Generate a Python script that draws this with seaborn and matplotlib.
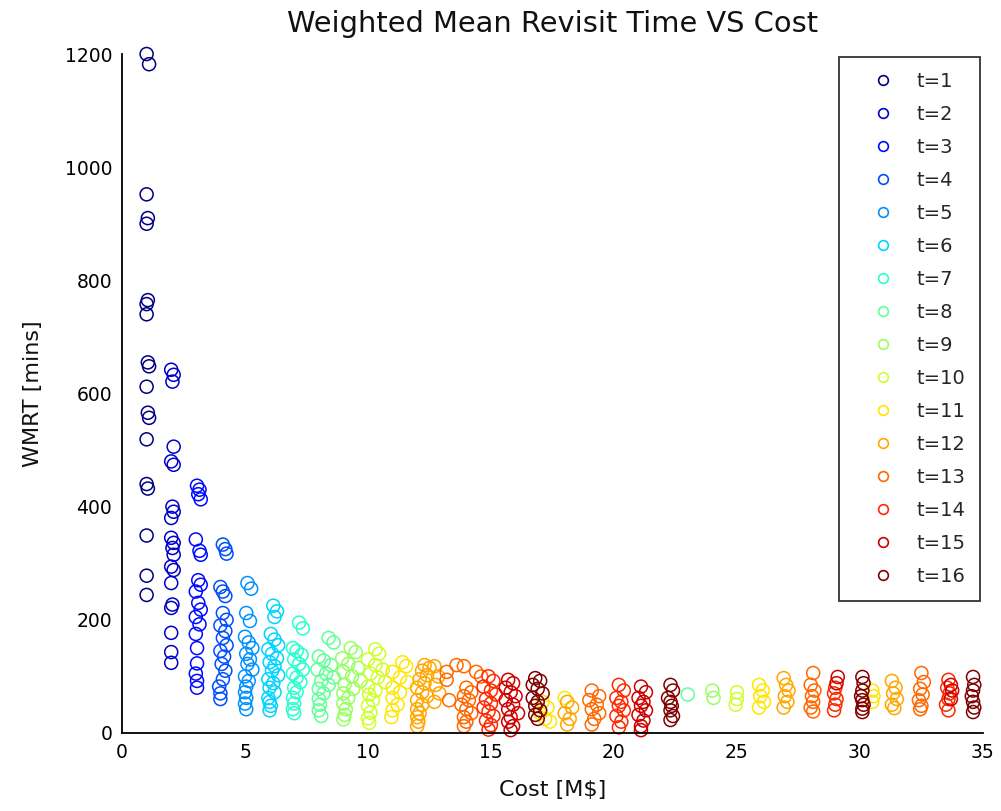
import numpy as np
import pandas as pd
import matplotlib
matplotlib.use("Agg")
import matplotlib.pyplot as plt
from matplotlib.lines import Line2D
import seaborn as sns

# ---------------- data ----------------
cost_t1 = [1.0, 1.1, 1.0, 1.05, 1.0, 1.05, 1.0, 1.0, 1.05, 1.1, 1.0, 1.05, 1.1, 1.0, 1.0, 1.05, 1.0, 1.0, 1.0]
wmrt_t1 = [1200, 1182, 952, 910, 900, 765, 758, 740, 655, 648, 612, 566, 557, 519, 440, 432, 349, 278, 244]

cost_t2 = [2.0, 2.1, 2.05, 2.1, 2.0, 2.1, 2.05, 2.1, 2.0, 2.0, 2.1, 2.05, 2.1, 2.0, 2.1, 2.0, 2.05, 2.0, 2.0, 2.0, 2.0]
wmrt_t2 = [642, 633, 621, 506, 480, 474, 400, 391, 380, 345, 336, 327, 315, 294, 288, 265, 227, 221, 177, 143, 124]

cost_t3 = [3.05, 3.15, 3.1, 3.2, 3.0, 3.15, 3.2, 3.1, 3.2, 3.0, 3.1, 3.2, 3.0, 3.15, 3.0, 3.05, 3.05, 3.0, 3.05, 3.05]
wmrt_t3 = [437, 430, 422, 413, 342, 322, 315, 270, 262, 250, 230, 218, 205, 192, 175, 150, 123, 105, 92, 80]

cost_t4 = [4.1, 4.2, 4.25, 4.0, 4.1, 4.2, 4.1, 4.25, 4.0, 4.2, 4.1, 4.25, 4.0, 4.15, 4.05, 4.2, 4.1, 3.95, 4.0, 4.0]
wmrt_t4 = [333, 325, 317, 258, 250, 242, 212, 200, 190, 180, 168, 155, 145, 135, 122, 110, 95, 82, 70, 60]

cost_t5 = [5.1, 5.25, 5.05, 5.2, 5.0, 5.15, 5.3, 5.05, 5.2, 5.1, 5.3, 5.0, 5.15, 5.05, 5.0, 5.05, 5.0, 5.05]
wmrt_t5 = [265, 255, 212, 198, 170, 160, 150, 140, 130, 122, 112, 100, 92, 82, 72, 62, 52, 42]

cost_t6 = [6.15, 6.3, 6.2, 6.05, 6.2, 6.35, 5.95, 6.1, 6.3, 6.0, 6.2, 6.1, 6.35, 5.95, 6.15, 6.0, 6.2, 5.95, 6.0, 6.05, 6.0]
wmrt_t6 = [225, 215, 205, 175, 165, 155, 148, 140, 132, 125, 118, 110, 102, 95, 88, 80, 72, 62, 55, 48, 40]

cost_t7 = [7.2, 7.35, 6.95, 7.1, 7.3, 7.0, 7.2, 7.35, 6.95, 7.1, 7.25, 7.0, 7.1, 6.95, 7.0, 6.95, 7.0]
wmrt_t7 = [195, 185, 150, 145, 138, 130, 122, 112, 105, 98, 90, 80, 72, 62, 52, 42, 35]

cost_t8 = [8.4, 8.6, 8.0, 8.2, 8.5, 7.95, 8.3, 8.6, 8.1, 8.4, 8.0, 8.2, 8.0, 8.05, 8.0, 8.1, 23.0]
wmrt_t8 = [168, 160, 135, 128, 120, 112, 105, 98, 92, 85, 78, 70, 60, 50, 40, 30, 68]

cost_t9 = [9.3, 9.5, 8.95, 9.2, 9.6, 9.0, 9.35, 9.7, 9.05, 9.4, 9.0, 9.2, 9.0, 9.1, 9.05, 9.0, 24.0, 24.05]
wmrt_t9 = [150, 143, 132, 122, 115, 108, 100, 92, 85, 78, 70, 62, 52, 42, 32, 24, 75, 62]

cost_t10 = [10.3, 10.45, 10.0, 10.3, 10.6, 10.1, 10.4, 10.7, 10.0, 10.3, 10.05, 10.2, 10.0, 10.1, 10.0, 10.05, 25.0, 25.0, 24.95]
wmrt_t10 = [148, 140, 130, 120, 112, 105, 98, 90, 82, 75, 68, 58, 48, 36, 26, 18, 72, 60, 50]

cost_t11 = [11.4, 11.55, 11.0, 11.3, 11.6, 11.0, 11.3, 11.0, 11.2, 11.0, 10.95,
            17.1, 17.3, 17.0, 17.2, 17.4, 18.0,
            25.9, 26.05, 25.95, 26.1, 25.9, 30.5, 30.55, 30.5]
wmrt_t11 = [125, 118, 108, 98, 90, 80, 72, 62, 50, 40, 28,
            55, 45, 35, 25, 20, 62,
            85, 75, 65, 55, 45, 75, 65, 55]

cost_t12 = [12.3, 12.5, 12.2, 12.4, 12.1, 12.3, 12.0, 12.2, 12.4, 12.0, 12.2, 12.0, 12.1, 12.0, 12.05, 12.0,
            12.7, 12.85, 12.75, 12.9, 12.7,
            18.1, 18.3, 18.0, 18.2, 18.1,
            26.9, 27.0, 27.1, 26.95, 27.05, 26.9,
            31.3, 31.45, 31.35, 31.5, 31.3, 31.4]
wmrt_t12 = [120, 115, 110, 102, 95, 88, 80, 72, 65, 58, 50, 42, 35, 28, 20, 12,
            118, 100, 85, 70, 55,
            55, 45, 35, 25, 15,
            97, 85, 75, 65, 55, 45,
            92, 80, 70, 60, 50, 44]

cost_t13 = [13.2, 13.2, 13.3, 13.6, 13.9, 14.4, 14.6, 14.0, 14.2, 13.9, 14.1, 13.8, 14.0, 14.2, 13.9, 14.0, 13.9,
            19.1, 19.4, 19.0, 19.3, 19.1, 19.4, 19.2, 19.1,
            28.1, 28.0, 28.15, 28.05, 28.1, 28.0, 28.1,
            32.5, 32.6, 32.45, 32.55, 32.4, 32.5, 32.45]
wmrt_t13 = [108, 94, 58, 120, 118, 108, 100, 80, 72, 65, 58, 50, 42, 35, 28, 20, 12,
            75, 65, 58, 50, 42, 35, 25, 15,
            106, 85, 75, 65, 55, 45, 38,
            106, 90, 78, 68, 58, 48, 42]

cost_t14 = [14.9, 15.1, 14.7, 15.0, 15.2, 14.8, 15.0, 14.7, 14.9, 15.1, 14.8, 15.0, 14.9,
            20.2, 20.4, 20.1, 20.3, 20.2, 20.4, 20.1, 20.3, 20.2,
            29.0, 28.95, 29.05, 29.0, 28.95,
            33.6, 33.55, 33.65, 33.6, 33.5, 33.6]
wmrt_t14 = [100, 92, 82, 75, 68, 60, 52, 45, 38, 30, 22, 14, 6,
            85, 75, 62, 55, 48, 40, 30, 20, 10,
            80, 70, 60, 50, 40,
            94, 80, 70, 60, 50, 40]

cost_t15 = [15.7, 15.9, 15.6, 15.8, 16.0, 15.6, 15.9, 15.7, 16.1, 15.8, 15.7, 15.9, 15.8,
            21.1, 21.3, 21.0, 21.2, 21.1, 21.3, 21.0, 21.2, 21.1, 21.1,
            29.1, 29.05,
            33.7, 33.75, 33.7]
wmrt_t15 = [94, 88, 80, 72, 65, 58, 50, 42, 35, 28, 20, 12, 5,
            82, 72, 62, 55, 48, 40, 32, 22, 12, 5,
            99, 88,
            85, 75, 60]

cost_t16 = [16.8, 17.0, 16.7, 16.9, 17.1, 16.7, 16.9, 16.8, 17.0, 16.8, 16.9,
            22.3, 22.4, 22.2, 22.3, 22.35, 22.3, 22.4, 22.3,
            30.1, 30.15, 30.1, 30.05, 30.1, 30.15, 30.1, 30.1,
            34.6, 34.65, 34.6, 34.55, 34.6, 34.65, 34.6]
wmrt_t16 = [97, 92, 85, 78, 70, 62, 55, 48, 40, 32, 25,
            85, 75, 62, 55, 48, 40, 30, 23,
            99, 88, 75, 65, 58, 50, 43, 37,
            99, 85, 75, 65, 55, 45, 37]

series_labels = ["t=%d" % i for i in range(1, 17)]
cost_lists = [cost_t1, cost_t2, cost_t3, cost_t4, cost_t5, cost_t6, cost_t7, cost_t8,
              cost_t9, cost_t10, cost_t11, cost_t12, cost_t13, cost_t14, cost_t15, cost_t16]
wmrt_lists = [wmrt_t1, wmrt_t2, wmrt_t3, wmrt_t4, wmrt_t5, wmrt_t6, wmrt_t7, wmrt_t8,
              wmrt_t9, wmrt_t10, wmrt_t11, wmrt_t12, wmrt_t13, wmrt_t14, wmrt_t15, wmrt_t16]

x_ticks = [0, 5, 10, 15, 20, 25, 30, 35]
y_ticks = [0, 200, 400, 600, 800, 1000, 1200]

frames = []
for lab, cx, wy in zip(series_labels, cost_lists, wmrt_lists):
    frames.append(pd.DataFrame({"cost": cx, "wmrt": wy, "t": lab}))
df = pd.concat(frames, ignore_index=True)

# ---------------- plotting ----------------
sns.set_theme(style="white")
plt.rcParams["font.family"] = ["DejaVu Sans"]

colors = [plt.cm.jet(v) for v in np.linspace(0, 1, 16)]
palette = dict(zip(series_labels, colors))

fig = plt.figure(figsize=(10.01, 8.11), dpi=100)
ax = fig.add_axes([0.1219, 0.0962, 0.860, 0.8372])

for lab in series_labels:
    sub = df[df["t"] == lab]
    sns.scatterplot(data=sub, x="cost", y="wmrt", color=palette[lab], s=88,
                    marker="o", linewidth=1.1, legend=False, ax=ax)
    coll = ax.collections[-1]
    coll.set_edgecolors([palette[lab]])
    coll.set_facecolors("none")
    coll.set_clip_on(False)

ax.set_xlim(0, 35)
ax.set_ylim(0, 1200)
ax.set_xticks(x_ticks)
ax.set_yticks(y_ticks)
ax.tick_params(direction="in", length=8, width=1.3, colors="black",
               labelsize=13.5, pad=7)
for side in ["top", "right"]:
    ax.spines[side].set_visible(False)
for side in ["left", "bottom"]:
    ax.spines[side].set_color("black")
    ax.spines[side].set_linewidth(1.3)

ax.set_title("Weighted Mean Revisit Time VS Cost", fontsize=20.8, pad=16, color="#111111")
ax.set_xlabel("Cost [M$]", fontsize=16, labelpad=13, color="#111111")
ax.set_ylabel("WMRT [mins]", fontsize=16, labelpad=16, color="#111111")

handles = [Line2D([], [], linestyle="none", marker="o", markersize=7,
                  markerfacecolor="none", markeredgecolor=palette[lab],
                  markeredgewidth=1.2) for lab in series_labels]
leg = ax.legend(handles, series_labels, loc="upper right", bbox_to_anchor=(0.997, 0.995),
                borderaxespad=0, fontsize=14, frameon=True, fancybox=False,
                labelspacing=0.72, handlelength=3.0, handletextpad=0.25,
                borderpad=0.75)
leg.get_frame().set_edgecolor("black")
leg.get_frame().set_linewidth(1.3)

fig.savefig("out.png", dpi=100)
